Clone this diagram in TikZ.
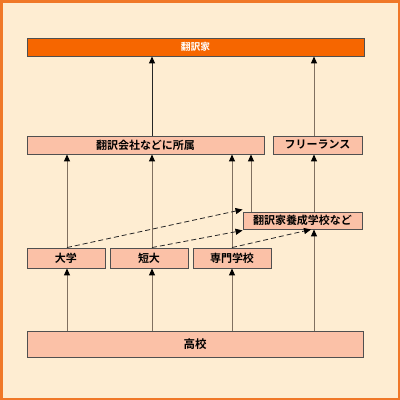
\documentclass[tikz,border=0pt]{standalone}
\usepackage{fontspec}
\newfontfamily\jp{Noto Sans CJK JP}[BoldFont={Noto Sans CJK JP Bold}]
\usetikzlibrary{arrows.meta}
\definecolor{bgc}{HTML}{FEEDD2}
\definecolor{framec}{HTML}{F07828}
\definecolor{topc}{HTML}{F66600}
\definecolor{boxc}{HTML}{FBC1A7}
\definecolor{edgec}{HTML}{505050}
\definecolor{linec}{HTML}{807060}
\tikzset{
  box/.style={draw=edgec, line width=0.9pt, fill=boxc, inner sep=0pt, font=\jp\bfseries\fontsize{11}{13}\selectfont, text=black},
  up/.style={draw=linec, line width=1pt, -{Triangle[length=7pt,width=6pt,black]}},
  updark/.style={draw=black!85, line width=1pt, -{Triangle[length=7pt,width=6pt,black]}},
  dasharrow/.style={draw=black!85, line width=0.8pt, dash pattern=on 5pt off 3pt, -{Triangle[length=7pt,width=6pt,black]}}
}
\begin{document}
\begin{tikzpicture}[x=1pt,y=-1pt]
\useasboundingbox (0,0) rectangle (400,400);
\fill[bgc] (0,0) rectangle (400,400);
\draw[framec, line width=2.5pt] (1.25,1.25) rectangle (398.75,398.75);
\coordinate (xa) at (67,0);
\coordinate (xb) at (152,0);
\coordinate (xc) at (232,0);
\coordinate (xd) at (251,0);
\coordinate (xe) at (314,0);
\coordinate (xf) at (311,0);
\node[box, fill=topc, text=white, minimum width=337pt, minimum height=18pt, font=\jp\bfseries\fontsize{9.7}{11}\selectfont] (top) at (195.5,47) {翻訳家};
\node[box, minimum width=237pt, minimum height=18pt] (kaisha) at (145.5,145) {翻訳会社などに所属};
\node[box, minimum width=89pt, minimum height=18pt] (free) at (317.5,145) {フリーランス};
\node[box, minimum width=119pt, minimum height=17pt] (yosei) at (302.5,220.5) {翻訳家養成学校など};
\node[box, minimum width=78pt, minimum height=20pt] (daigaku) at (66,258) {大学};
\node[box, minimum width=78pt, minimum height=20pt] (tandai) at (149,258) {短大};
\node[box, minimum width=78pt, minimum height=20pt] (senmon) at (232,258) {専門学校};
\node[box, minimum width=336pt, minimum height=26pt, font=\jp\bfseries\fontsize{11.5}{13}\selectfont] (koko) at (195,344) {高校};
% arrows
\draw[updark] (kaisha.north -| xb) -- (top.south -| xb);
\draw[up] (free.north -| xe) -- (top.south -| xe);
\draw[up] (daigaku.north -| xa) -- (kaisha.south -| xa);
\draw[up] (tandai.north -| xb) -- (kaisha.south -| xb);
\draw[up] (senmon.north -| xc) -- (kaisha.south -| xc);
\draw[up] (yosei.north -| xd) -- (kaisha.south -| xd);
\draw[up] (yosei.north -| xe) -- (free.south -| xe);
\draw[up] (koko.north -| xe) -- (yosei.south -| xe);
\draw[up] (koko.north -| xa) -- (daigaku.south -| xa);
\draw[up] (koko.north -| xb) -- (tandai.south -| xb);
\draw[up] (koko.north -| xc) -- (senmon.south -| xc);
% dashed
\draw[dasharrow] (daigaku.north -| xa) -- ([yshift=2pt]yosei.north west);
\draw[dasharrow] (tandai.north -| xb) -- ([yshift=-1pt]yosei.south west);
\draw[dasharrow] (senmon.north -| xc) -- (yosei.south -| xf);
\end{tikzpicture}
\end{document}
